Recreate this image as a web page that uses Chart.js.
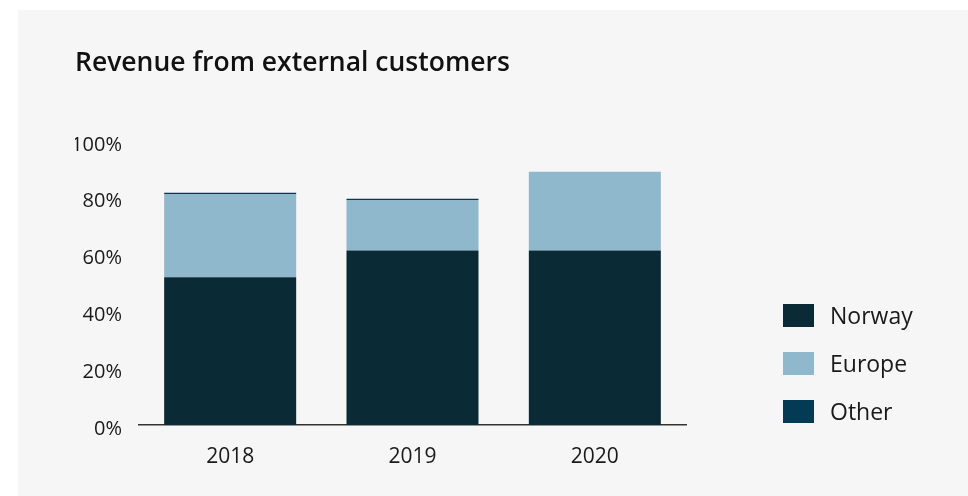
<!DOCTYPE html>
<html>
<head>
<meta charset="utf-8">
<script src="https://cdn.jsdelivr.net/npm/chart.js@4"></script>
<style>
  html, body { margin: 0; padding: 0; background: #fff; }
  #panel { position: absolute; left: 18px; top: 10px; width: 950px; height: 486px; background: #f6f6f6; }
  #chart { display: block; }
</style>
</head>
<body>
<div id="panel"><canvas id="chart" width="950" height="486"></canvas></div>
<script>
const years = ['2018', '2019', '2020'];
const norway = [52, 61.4, 61.4];
const europe = [29.3, 17.8, 27.7];
const other = [0.4, 0.4, 0];
const yTicks = [0, 20, 40, 60, 80, 100];

const textFont = '"Open Sans", "Liberation Sans", sans-serif';

// legend drawn to the right of the plot, like the report layout
const sideLegend = {
  id: 'sideLegend',
  afterDraw(chart) {
    const ctx = chart.ctx;
    const area = chart.chartArea;
    const sets = chart.data.datasets;
    ctx.save();
    ctx.font = '400 23px ' + textFont;
    ctx.textBaseline = 'middle';
    ctx.textAlign = 'left';
    sets.forEach((ds, i) => {
      const x = area.right + 97;
      const y = area.bottom - 121 + i * 48;
      ctx.fillStyle = ds.backgroundColor;
      ctx.fillRect(x, y, 31, 23);
      ctx.fillStyle = '#1a1a1a';
      ctx.fillText(ds.label, x + 47, y + 13);
    });
    ctx.restore();
  }
};

new Chart(document.getElementById('chart'), {
  type: 'bar',
  data: {
    labels: years,
    datasets: [
      { label: 'Norway', data: norway, backgroundColor: '#0a2a35' },
      { label: 'Europe', data: europe, backgroundColor: '#8fb8cc' },
      { label: 'Other', data: other, backgroundColor: '#053a55' }
    ]
  },
  options: {
    responsive: false,
    animation: false,
    layout: { padding: { left: 57, right: 282, top: 0, bottom: 0 } },
    datasets: { bar: { categoryPercentage: 1, barPercentage: 0.724, borderWidth: 0 } },
    scales: {
      x: {
        stacked: true,
        grid: { display: false },
        border: { display: true, color: '#333', width: 1.5 },
        ticks: { color: '#1a1a1a', font: { family: textFont, size: 21 }, padding: 11 },
        afterFit: (scale) => { scale.height = 71; }
      },
      y: {
        stacked: true,
        min: 0,
        max: 100,
        grid: { display: false },
        border: { display: false },
        afterBuildTicks: (scale) => { scale.ticks = yTicks.map(v => ({ value: v })); },
        ticks: {
          color: '#1a1a1a',
          font: { family: textFont, size: 20 },
          padding: 9,
          labelOffset: 4,
          callback: (v) => v + '%'
        },
        afterFit: (scale) => { scale.width = 64; }
      }
    },
    plugins: {
      legend: { display: false },
      tooltip: { enabled: false },
      title: {
        display: true,
        text: 'Revenue from external customers',
        align: 'start',
        color: '#111',
        font: { family: textFont, size: 26.5, weight: '600' },
        padding: { top: 38, bottom: 61 }
      }
    }
  },
  plugins: [sideLegend]
});
</script>
</body>
</html>
